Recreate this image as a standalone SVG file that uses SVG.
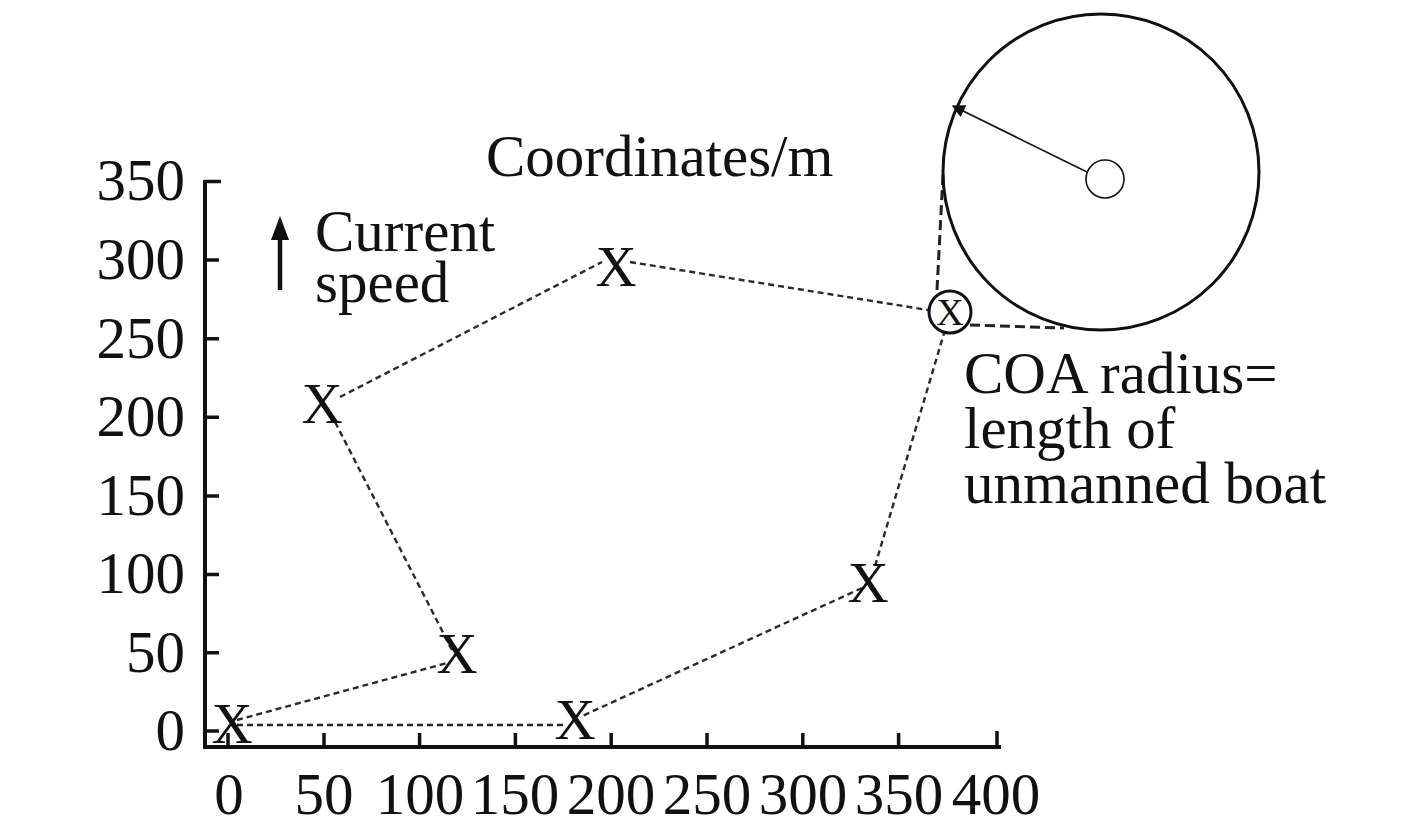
<svg xmlns="http://www.w3.org/2000/svg" width="1417" height="834" viewBox="0 0 1417 834">
<defs>
<style>
text{font-family:"Liberation Serif","Times New Roman",serif;fill:#111;}
.lbl{font-size:59px;}
.ylab{font-size:59px;text-anchor:end;}
.xlab{font-size:59px;text-anchor:middle;}
.mk{font-size:57px;text-anchor:middle;}
.axis{stroke:#111;stroke-width:4;fill:none;stroke-linecap:square;}
.tick{stroke:#111;stroke-width:3.5;fill:none;}
.route{stroke:#2a2a2a;stroke-width:2.4;stroke-dasharray:6 4;fill:none;}
.tang{stroke:#222;stroke-width:3;stroke-dasharray:10 5;fill:none;}
</style>
<marker id="ah" viewBox="0 0 10 10" refX="9" refY="5" markerWidth="15" markerHeight="13" orient="auto-start-reverse" markerUnits="userSpaceOnUse">
<path d="M0,0 L10,5 L0,10 z" fill="#111"/>
</marker>
</defs>
<rect width="1417" height="834" fill="#fff"/>

<g id="axes">
<path class="axis" d="M205,182 V747 H999"/>
<path class="tick" d="M205,181.5 H221 M205,260 H219 M205,338.7 H219 M205,417.3 H219 M205,495.9 H219 M205,574.4 H219 M205,652.8 H219 M205,731 H219"/>
<path class="tick" d="M228,747 V733 M324,747 V733 M419.6,747 V733 M515.4,747 V733 M611.2,747 V733 M707,747 V733 M802.8,747 V733 M898.6,747 V733 M997,747 V731"/>
<g id="ylabels">
<text class="ylab" x="185" y="200">350</text>
<text class="ylab" x="185" y="279">300</text>
<text class="ylab" x="185" y="358">250</text>
<text class="ylab" x="185" y="436">200</text>
<text class="ylab" x="185" y="515">150</text>
<text class="ylab" x="185" y="593">100</text>
<text class="ylab" x="185" y="672">50</text>
<text class="ylab" x="185" y="750">0</text>
</g>
<g id="xlabels">
<text class="xlab" x="229" y="814">0</text>
<text class="xlab" x="324" y="814">50</text>
<text class="xlab" x="420" y="814">100</text>
<text class="xlab" x="515" y="814">150</text>
<text class="xlab" x="611" y="814">200</text>
<text class="xlab" x="707" y="814">250</text>
<text class="xlab" x="803" y="814">300</text>
<text class="xlab" x="899" y="814">350</text>
<text class="xlab" x="996" y="814">400</text>
</g>
</g>

<g id="connectors">
<path class="route" d="M237,725 H563"/>
<path class="route" d="M237,720 L447,663"/>
<path class="route" d="M452,650 L333,418"/>
<path class="route" d="M340,397 L602,262"/>
<path class="route" d="M630,262 L928,310"/>
<path class="route" d="M945,330 L875,566"/>
<path class="route" d="M862,588 L580,717"/>
<path class="tang" d="M937,290 L943,175"/>
<path class="tang" d="M970,325 L1064,328"/>
<path d="M1087,172 L953,106" stroke="#111" stroke-width="1.6" fill="none" marker-end="url(#ah)"/>
</g>

<g id="obstacle">
<circle cx="1101" cy="172" r="158" fill="none" stroke="#111" stroke-width="3"/>
<circle cx="1105" cy="179" r="19" fill="#fff" stroke="#111" stroke-width="1.6"/>
</g>

<g id="current">
<path d="M280,290 V234" stroke="#111" stroke-width="4.5" fill="none"/>
<path d="M280,216 L271,240 L289,240 z" fill="#111"/>
<text class="lbl" x="315" y="251">Current</text>
<text class="lbl" x="315" y="302">speed</text>
</g>

<g id="title"><text class="lbl" x="486" y="176">Coordinates/m</text></g>

<g id="coa-label">
<text class="lbl" x="964" y="393">COA radius=</text>
<text class="lbl" x="964" y="448">length of</text>
<text class="lbl" x="964" y="503">unmanned boat</text>
</g>

<g id="wp0"><text class="mk" x="232" y="743">X</text></g>
<g id="wp1"><text class="mk" x="457" y="673">X</text></g>
<g id="wp2"><text class="mk" x="322" y="423">X</text></g>
<g id="wp3"><text class="mk" x="616" y="286">X</text></g>
<g id="wp4">
<circle cx="950" cy="312" r="21" fill="#fff" stroke="#111" stroke-width="3"/>
<text x="950" y="325" style="font-size:38px;text-anchor:middle">X</text>
</g>
<g id="wp5"><text class="mk" x="868" y="602">X</text></g>
<g id="wp6"><text class="mk" x="575" y="739">X</text></g>
</svg>
